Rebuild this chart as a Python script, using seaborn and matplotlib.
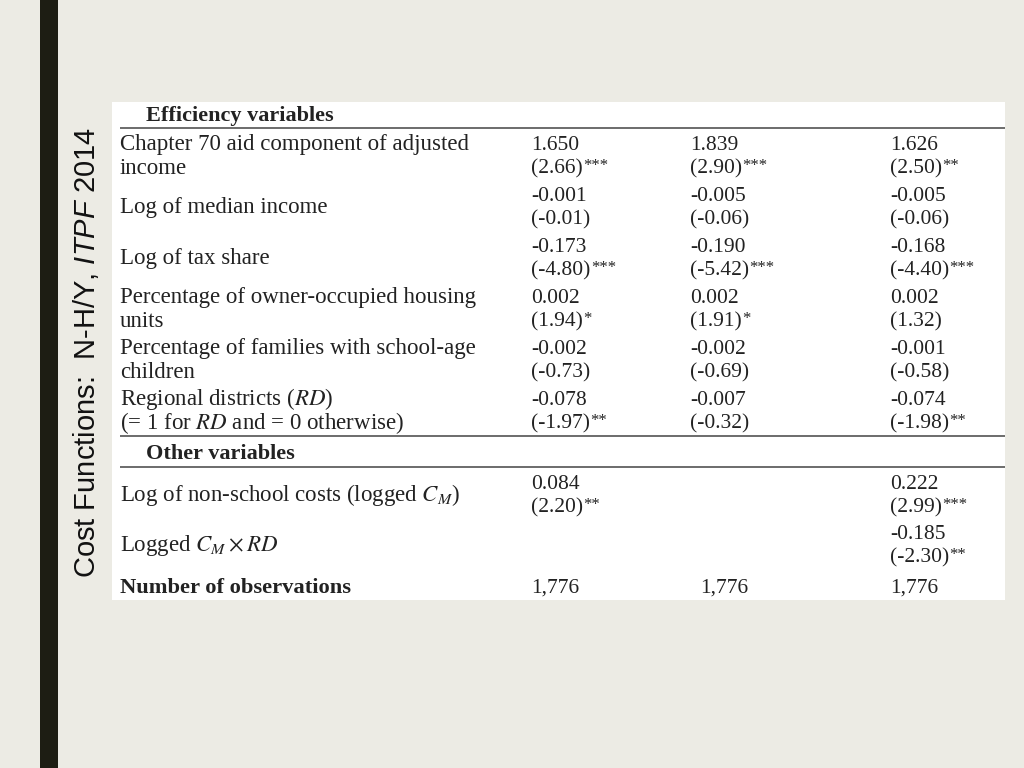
import matplotlib
matplotlib.use("Agg")
import matplotlib.pyplot as plt
import seaborn as sns
from matplotlib import font_manager
from matplotlib.patches import Rectangle

# table contents
efficiency_header = "Efficiency variables"
other_header = "Other variables"
obs_label = "Number of observations"

efficiency_vars = [
    "Chapter 70 aid component of adjusted\nincome",
    "Log of median income",
    "Log of tax share",
    "Percentage of owner-occupied housing\nunits",
    "Percentage of families with school-age\nchildren",
    "Regional districts ($RD$)\n(= 1 for $RD$ and = 0 otherwise)",
]
other_vars = [
    "Log of non-school costs (logged $C_M$)",
    "Logged $C_M \\times RD$",
]

coef_m1 = [1.650, -0.001, -0.173, 0.002, -0.002, -0.078, 0.084, None]
tstat_m1 = [2.66, -0.01, -4.80, 1.94, -0.73, -1.97, 2.20, None]
stars_m1 = [3, 0, 3, 1, 0, 2, 2, 0]

coef_m2 = [1.839, -0.005, -0.190, 0.002, -0.002, -0.007, None, None]
tstat_m2 = [2.90, -0.06, -5.42, 1.91, -0.69, -0.32, None, None]
stars_m2 = [3, 0, 3, 1, 0, 0, 0, 0]

coef_m3 = [1.626, -0.005, -0.168, 0.002, -0.001, -0.074, 0.222, -0.185]
tstat_m3 = [2.50, -0.06, -4.40, 1.32, -0.58, -1.98, 2.99, -2.30]
stars_m3 = [2, 0, 3, 0, 0, 2, 3, 2]

n_obs = [1776, 1776, 1776]

sns.set_theme(style="white")
installed = {f.name for f in font_manager.fontManager.ttflist}
title_font = "Liberation Sans Narrow" if "Liberation Sans Narrow" in installed else "Liberation Sans"
plt.rcParams["font.family"] = ["Liberation Serif", "DejaVu Serif"]
plt.rcParams["mathtext.fontset"] = "custom"
plt.rcParams["mathtext.it"] = title_font + ":italic"
plt.rcParams["mathtext.rm"] = title_font

bg = "#ECEBE4"
ink = "#222222"
fig = plt.figure(figsize=(10.24, 7.68), dpi=100, facecolor=bg)
ax = fig.add_axes([0, 0, 1, 1])
ax.set_xlim(0, 1024)
ax.set_ylim(768, 0)
ax.axis("off")

# slide decoration
ax.axvspan(40, 58, color="#1d1d13", lw=0)
title_size = 24 if title_font.endswith("Narrow") else 21
ax.text(86, 352, r"Cost Functions:  N-H/Y, $\mathit{ITPF}$ 2014", rotation=90,
        ha="center", va="center", fontsize=title_size, family=title_font,
        math_fontfamily="custom", color="#111111")

# white table panel
ax.add_patch(Rectangle((112, 102), 893, 498, facecolor="white", edgecolor="none"))

lab_size = 16.5
val_size = 15.5
col_x = [531, 690, 890]
obs_x = [531, 700, 890]
lab_x = 120


def put_cell(x, y, coef, ts, nstar):
    if coef is None:
        return
    ax.text(x, y, f"{coef:.3f}", ha="left", va="baseline", fontsize=val_size, color=ink)
    t = ax.text(x, y + 23, f"({ts:.2f})", ha="left", va="baseline", fontsize=val_size, color=ink)
    if nstar:
        ax.annotate("*" * nstar, xy=(1, 1), xycoords=t, xytext=(0.3, 0.5),
                    textcoords="offset points", ha="left", va="top",
                    fontsize=12, color=ink)


def put_label(y, label):
    lines = label.split("\n")
    if len(lines) == 1:
        ax.text(lab_x, y + 12, label, ha="left", va="baseline", fontsize=lab_size,
                color=ink, math_fontfamily="stix")
    else:
        for k, line in enumerate(lines):
            ax.text(lab_x, y + 24 * k, line, ha="left", va="baseline", fontsize=lab_size,
                    color=ink, math_fontfamily="stix")


columns = [(coef_m1, tstat_m1, stars_m1), (coef_m2, tstat_m2, stars_m2),
           (coef_m3, tstat_m3, stars_m3)]

# efficiency block
ax.text(146, 121, efficiency_header, ha="left", va="baseline", fontsize=16,
        fontweight="bold", color=ink)
ax.hlines(127.5, 120, 1005, color="#444444", lw=1.1)
row_y = [150 + 51 * i for i in range(len(efficiency_vars))]
for i, y in enumerate(row_y):
    put_label(y, efficiency_vars[i])
    for x, (cf, ts, st) in zip(col_x, columns):
        put_cell(x, y, cf[i], ts[i], st[i])

# other variables block
ax.hlines(435.5, 120, 1005, color="#444444", lw=1.1)
ax.text(146, 459, other_header, ha="left", va="baseline", fontsize=16,
        fontweight="bold", color=ink)
ax.hlines(466.5, 120, 1005, color="#444444", lw=1.1)
n_eff = len(efficiency_vars)
other_y = [489 + 50 * i for i in range(len(other_vars))]
for j, y in enumerate(other_y):
    put_label(y, other_vars[j])
    for x, (cf, ts, st) in zip(col_x, columns):
        put_cell(x, y, cf[n_eff + j], ts[n_eff + j], st[n_eff + j])

# observations
ax.text(lab_x, 593, obs_label, ha="left", va="baseline", fontsize=16.2,
        fontweight="bold", color=ink)
for x, n in zip(obs_x, n_obs):
    ax.text(x, 593, f"{n:,}", ha="left", va="baseline", fontsize=val_size, color=ink)

fig.savefig("out.png", dpi=100, facecolor=bg)
